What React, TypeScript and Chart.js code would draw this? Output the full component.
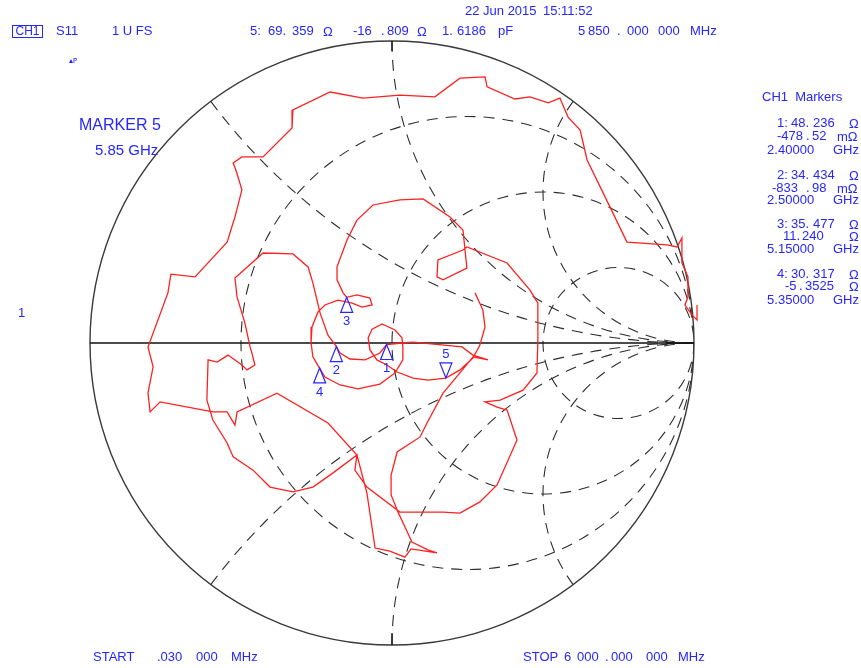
import React, { useEffect, useRef } from "react";
import { Chart, registerables } from "chart.js";

Chart.register(...registerables);

const traceRe = [
  1.010, 1.010, 0.993, 0.970, 0.980, 0.980, 0.960, 0.960, 0.944, 0.911,
  0.778, 0.722, 0.646, 0.623, 0.583, 0.556, 0.517, 0.457, 0.407, 0.315,
  0.308, 0.225, 0.142, 0.026, -0.096, -0.205, -0.328, -0.331, -0.427, -0.497,
  -0.526, -0.517, -0.497, -0.520, -0.546, -0.652, -0.732, -0.742, -0.808, -0.791,
  -0.808, -0.801, -0.768, -0.593, -0.546, -0.520, -0.513, -0.381, -0.212, -0.116,
  -0.083, -0.056, -0.007, 0.043, 0.063, 0.149, 0.119, 0.066, 0.043, 0.020,
  -0.003, -0.003, 0.017, 0.093, 0.116, 0.169, 0.225, 0.268, 0.318, 0.268,
  0.232, 0.070, 0.033, -0.018, -0.040, -0.089, -0.139, -0.172, -0.184, -0.212,
  -0.238, -0.262, -0.278, -0.328, -0.427, -0.520, -0.513, -0.487, -0.470, -0.464,
  -0.454, -0.480, -0.497, -0.543, -0.579, -0.609, -0.613, -0.593, -0.546, -0.526,
  -0.460, -0.404, -0.328, -0.262, -0.195, -0.116, -0.123, -0.083, 0.026, 0.169,
  0.225, 0.291, 0.348, 0.414, 0.381, 0.348, 0.308, 0.358, 0.434, 0.480,
  0.483, 0.483, 0.457, 0.381, 0.248, 0.235, 0.152, 0.149, 0.169, 0.248,
  0.235, 0.192, 0.103, 0.026, -0.063, -0.116, -0.149, -0.182, -0.182, -0.162,
  -0.150, -0.116, -0.073, -0.066, -0.099, -0.132, -0.179, -0.222, -0.245, -0.265,
  -0.268, -0.262, -0.240, -0.222, -0.172, -0.113, -0.040, 0.010, 0.036, 0.036,
  0.033, 0.010, -0.033, -0.066, -0.079, -0.073, -0.050, -0.017, 0.017, 0.070,
  0.119, 0.178, 0.225, 0.268, 0.291, 0.308, 0.301, 0.275,
];
const traceIm = [
  0.126, 0.076, 0.093, 0.126, 0.152, 0.219, 0.265, 0.348, 0.318, 0.325,
  0.334, 0.450, 0.606, 0.705, 0.748, 0.811, 0.795, 0.815, 0.808, 0.848,
  0.881, 0.877, 0.815, 0.821, 0.811, 0.831, 0.772, 0.712, 0.616, 0.616,
  0.596, 0.573, 0.507, 0.417, 0.334, 0.219, 0.228, 0.166, -0.013, -0.079,
  -0.166, -0.228, -0.195, -0.228, -0.228, -0.272, -0.228, -0.166, -0.265, -0.371,
  -0.497, -0.679, -0.689, -0.709, -0.682, -0.695, -0.685, -0.659, -0.609, -0.560,
  -0.503, -0.437, -0.361, -0.311, -0.265, -0.166, -0.099, -0.046, -0.056, -0.040,
  -0.013, 0.003, 0.000, -0.005, -0.033, -0.056, -0.053, -0.033, -0.012, 0.026,
  0.099, 0.199, 0.252, 0.295, 0.298, 0.215, 0.152, 0.066, -0.013, -0.033,
  -0.073, -0.089, -0.073, -0.040, -0.063, -0.056, -0.189, -0.255, -0.331, -0.377,
  -0.421, -0.477, -0.493, -0.477, -0.430, -0.371, -0.421, -0.477, -0.560, -0.560,
  -0.563, -0.526, -0.470, -0.321, -0.222, -0.212, -0.195, -0.189, -0.156, -0.099,
  0.010, 0.132, 0.175, 0.265, 0.318, 0.308, 0.275, 0.219, 0.209, 0.248,
  0.374, 0.417, 0.477, 0.474, 0.457, 0.407, 0.341, 0.252, 0.209, 0.166,
  0.151, 0.159, 0.149, 0.126, 0.119, 0.132, 0.142, 0.126, 0.103, 0.053,
  0.000, -0.046, -0.083, -0.113, -0.139, -0.152, -0.136, -0.099, -0.056, -0.013,
  0.017, 0.043, 0.063, 0.046, 0.017, -0.023, -0.056, -0.073, -0.096, -0.116,
  -0.123, -0.116, -0.089, -0.050, -0.007, 0.053, 0.109, 0.166,
];

// Markers (impedance in ohms)
const markerNames = ["1", "2", "3", "4", "5"];
const markerResistance = [48.236, 34.434, 35.477, 30.317, 69.359];
const markerReactance = [-0.47852, -0.83398, 11.24, -5.3525, -16.809];
const activeMarker = "5";
const Z0 = 50;

// Smith grid values
const resistanceCircles = [1 / 3, 1, 3];
const reactanceArcs = [0.5, 1, 2, -0.5, -1, -2];

const BLUE = "#2626ff";
const FONT = '"Liberation Sans", Arial, Helvetica, sans-serif';

function gamma(r: number, x: number) {
  const zr = r / Z0, zi = x / Z0;
  const a = zr - 1, b = zi, c = zr + 1, d = zi;
  const den = c * c + d * d;
  return { x: (a * c + b * d) / den, y: (b * c - a * d) / den };
}

const smithGrid = {
  id: "smithGrid",
  beforeDatasetsDraw(chart: any) {
    const { ctx, scales } = chart;
    const X = (v: number) => scales.x.getPixelForValue(v);
    const Y = (v: number) => scales.y.getPixelForValue(v);
    const cx = X(0), cy = Y(0), R = X(1) - X(0);
    ctx.save();
    ctx.beginPath();
    ctx.arc(cx, cy, R, 0, Math.PI * 2);
    ctx.clip();
    ctx.setLineDash([11, 8]);
    ctx.strokeStyle = "#2e2e2e";
    ctx.lineWidth = 1.1;
    for (const r of resistanceCircles) {
      const c = r / (1 + r), rad = 1 / (1 + r);
      ctx.beginPath();
      ctx.arc(X(c), cy, rad * R, 0, Math.PI * 2);
      ctx.stroke();
    }
    for (const xv of reactanceArcs) {
      const ccx = X(1), ccy = Y(1 / xv), rad = R / Math.abs(xv);
      const gx = (xv * xv - 1) / (xv * xv + 1), gy = (2 * xv) / (xv * xv + 1);
      const a0 = Math.atan2(Y(gy) - ccy, X(gx) - ccx);
      const a1 = Math.atan2(cy - ccy, X(1) - ccx);
      ctx.beginPath();
      ctx.arc(ccx, ccy, rad, a0, a1, xv > 0);
      ctx.stroke();
    }
    ctx.restore();

    ctx.save();
    ctx.strokeStyle = "#3a3a3a";
    ctx.lineWidth = 1.4;
    ctx.beginPath();
    ctx.arc(cx, cy, R, 0, Math.PI * 2);
    ctx.stroke();
    ctx.strokeStyle = "#111";
    ctx.lineWidth = 1.3;
    ctx.beginPath();
    ctx.moveTo(X(-1), cy);
    ctx.lineTo(X(1), cy);
    ctx.moveTo(cx, Y(1));
    ctx.lineTo(cx, Y(1) + 10);
    ctx.moveTo(cx, Y(-1));
    ctx.lineTo(cx, Y(-1) - 12);
    ctx.stroke();
    ctx.restore();
  },
};

const markerPlugin = {
  id: "markerGlyphs",
  afterDatasetsDraw(chart: any) {
    const meta = chart.getDatasetMeta(1);
    const ctx = chart.ctx;
    ctx.save();
    ctx.strokeStyle = BLUE;
    ctx.fillStyle = BLUE;
    ctx.lineWidth = 1.2;
    ctx.font = `13px ${FONT}`;
    ctx.textAlign = "center";
    ctx.textBaseline = "middle";
    meta.data.forEach((pt: any, i: number) => {
      const x = pt.x, y = pt.y;
      const s = markerNames[i] === activeMarker ? -1 : 1;
      ctx.beginPath();
      ctx.moveTo(x, y);
      ctx.lineTo(x - 6, y + 15 * s);
      ctx.lineTo(x + 6, y + 15 * s);
      ctx.closePath();
      ctx.stroke();
      ctx.fillText(markerNames[i], x, y + 24 * s);
    });
    ctx.restore();
  },
};

type Lbl = [string, number, number, number?];
const labels: Lbl[] = [
  ["S11", 56, 31], ["1 U FS", 112, 31],
  ["5:", 250, 31], ["69.", 268, 31], ["359", 292, 31], ["Ω", 323, 32],
  ["-16", 353, 31], [".", 381, 31], ["809", 387, 31], ["Ω", 417, 32],
  ["1.", 442, 31], ["6186", 457, 31], ["pF", 498, 31],
  ["5", 578, 31], ["850", 588, 31], [".", 617, 31], ["000", 627, 31], ["000", 658, 31], ["MHz", 690, 31],
  ["22 Jun 2015", 465, 11], ["15:11:52", 543, 11],
  ["MARKER 5", 79, 124, 16], ["5.85 GHz", 95, 150, 15],
  ["CH1  Markers", 762, 97],
  ["1:", 777, 123], ["48.", 791, 123], ["236", 813, 123], ["Ω", 849, 124],
  ["-478", 777, 136], [".", 806, 136], ["52", 812, 136], ["mΩ", 837, 137],
  ["2.", 767, 150], ["40000", 778, 150], ["GHz", 833, 150],
  ["2:", 777, 175], ["34.", 791, 175], ["434", 813, 175], ["Ω", 849, 176],
  ["-833", 772, 188], [".", 806, 188], ["98", 812, 188], ["mΩ", 837, 189],
  ["2.", 767, 200], ["50000", 778, 200], ["GHz", 833, 200],
  ["3:", 777, 224], ["35.", 791, 224], ["477", 813, 224], ["Ω", 849, 225],
  ["11.", 783, 236], ["240", 802, 236], ["Ω", 849, 237],
  ["5.", 767, 249], ["15000", 778, 249], ["GHz", 833, 249],
  ["4:", 777, 274], ["30.", 791, 274], ["317", 813, 274], ["Ω", 849, 275],
  ["-5", 785, 286], [".", 799, 286], ["3525", 805, 286], ["Ω", 849, 287],
  ["5.", 767, 300], ["35000", 778, 300], ["GHz", 833, 300],
  ["1", 18, 313],
  ["START", 93, 657], [".030", 157, 657], ["000", 196, 657], ["MHz", 231, 657],
  ["STOP", 523, 657], ["6", 564, 657], ["000", 577, 657], [".", 605, 657],
  ["000", 611, 657], ["000", 646, 657], ["MHz", 678, 657],
];

// axis limits place the unit circle (centre 392,343; radius 302 px)
const X_MIN = -392 / 302, X_MAX = 469 / 302;
const Y_MAX = 343 / 302, Y_MIN = -325 / 302;

export default function App() {
  const ref = useRef<HTMLCanvasElement>(null);
  useEffect(() => {
    if (!ref.current) return;
    const markerPts = markerResistance.map((r, i) => gamma(r, markerReactance[i]));
    const chart = new Chart(ref.current, {
      type: "scatter",
      data: {
        datasets: [
          {
            label: "S11",
            data: traceRe.map((v, i) => ({ x: v, y: traceIm[i] })),
            showLine: true,
            borderColor: "#ff2020",
            borderWidth: 1.3,
            pointRadius: 0,
            tension: 0,
            fill: false,
          },
          {
            label: "Markers",
            data: markerPts,
            showLine: false,
            pointRadius: 0,
          },
        ],
      },
      options: {
        animation: false,
        responsive: false,
        maintainAspectRatio: false,
        events: [],
        layout: { padding: 0 },
        plugins: { legend: { display: false }, tooltip: { enabled: false }, title: { display: false } },
        scales: {
          x: { type: "linear", min: X_MIN, max: X_MAX, display: false },
          y: { type: "linear", min: Y_MIN, max: Y_MAX, display: false },
        },
      },
      plugins: [smithGrid, markerPlugin],
    } as any);
    return () => chart.destroy();
  }, []);

  return (
    <div style={{ position: "absolute", left: 0, top: 0, width: 861, height: 668, background: "#fff", overflow: "hidden" }}>
      <canvas ref={ref} width={861} height={668} style={{ position: "absolute", left: 0, top: 0, width: 861, height: 668 }} />
      <div
        style={{
          position: "absolute", left: 12, top: 25, width: 29, height: 11, border: `1px solid ${BLUE}`,
          color: BLUE, fontFamily: FONT, fontSize: 12, lineHeight: "11px", textAlign: "center",
        }}
      >
        CH1
      </div>
      <span style={{ position: "absolute", left: 69, top: 56, fontSize: 8, color: BLUE, fontFamily: '"DejaVu Sans", sans-serif', lineHeight: "9px" }}>▴ᴘ</span>
      {labels.map(([t, x, cy, s = 13], i) => (
        <span
          key={i}
          style={{
            position: "absolute", left: x, top: cy - 0.59 * s, fontSize: s, lineHeight: `${s * 1.2}px`,
            whiteSpace: "pre", color: BLUE, fontFamily: FONT,
          }}
        >
          {t}
        </span>
      ))}
    </div>
  );
}
